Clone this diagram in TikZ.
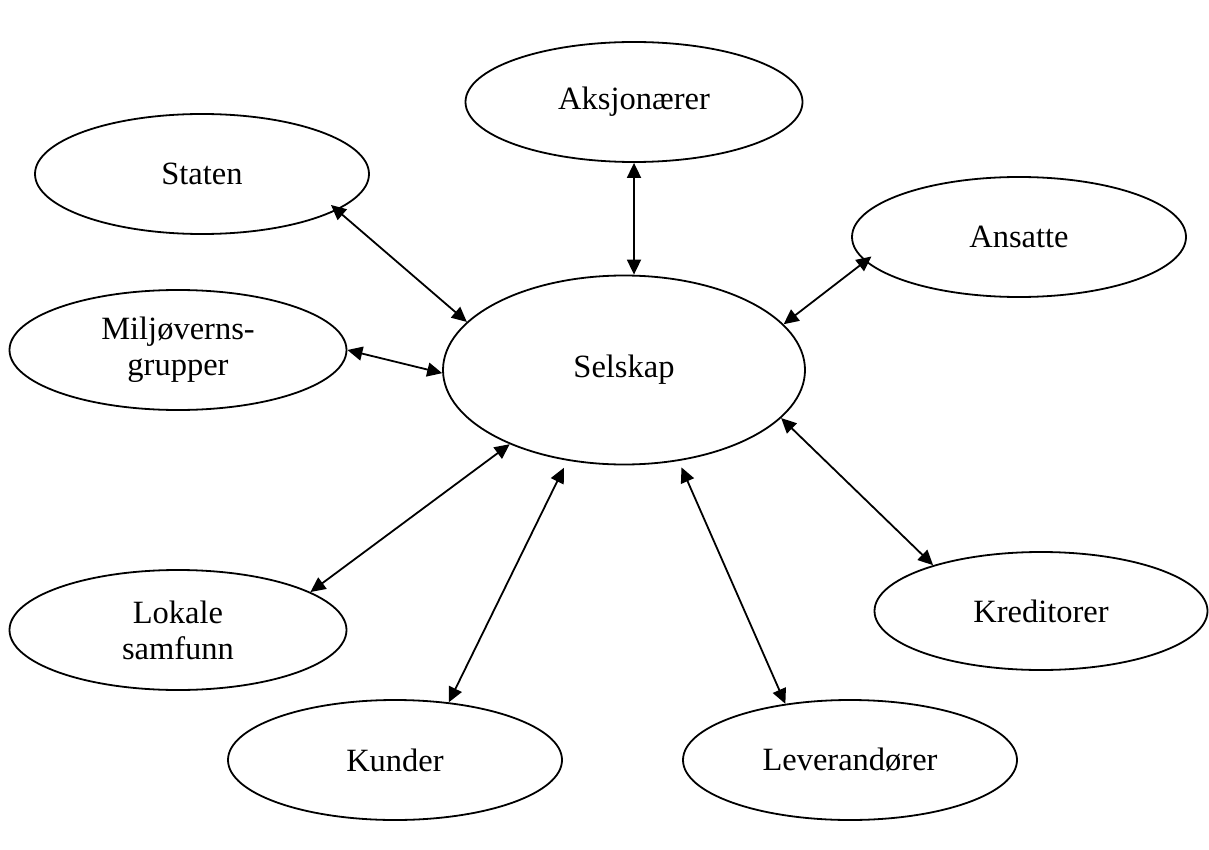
\documentclass[tikz,border=0pt]{standalone}
\usepackage{fontspec}
\setmainfont{Liberation Serif}
\usetikzlibrary{shapes.geometric,arrows.meta}
\begin{document}
\begin{tikzpicture}[x=1pt,y=-1pt,
  party/.style={draw,ellipse,line width=1.8pt,inner sep=0pt,align=center,
    minimum width=334pt,minimum height=120pt,
    font=\fontsize{32.5}{36}\selectfont},
  link/.style={line width=1.8pt,{Triangle[length=15pt,width=14pt]}-{Triangle[length=15pt,width=14pt]}}]
\useasboundingbox (0,0) rectangle (1209,850);
\fill[white] (0,0) rectangle (1209,850);

% stakeholder groups around the company
\node[party,minimum width=362pt,minimum height=189pt] (selskap) at (624,370) {Selskap};
\node[party,minimum width=337pt] (aksj) at (634,102) {Aksjonærer};
\node[party] (staten) at (202,174) {Staten};
\node[party] (ansatte) at (1019,237) {Ansatte};
\node[party,minimum width=337pt] (miljo) at (178,350) {Miljøverns-\\grupper};
\node[party,minimum width=337pt] (lokale) at (178,630) {Lokale\\samfunn};
\node[party,minimum width=333pt,minimum height=118pt] (kred) at (1041,611) {Kreditorer};
\node[party] (kunder) at (395,760) {Kunder};
\node[party] (lev) at (850,760) {Leverandører};

% two-way relations
\draw[link] (aksj.south) -- (aksj.south |- selskap.north);
\draw[link,shorten <=-8pt] (staten.-15) -- (selskap.163.4);
\draw[link,shorten <=-8pt] (ansatte.189) -- (selskap.16.9);
\draw[link] (miljo.east) -- (selskap.181);
\draw[link] (lokale.16.5) -- (selskap.213.9);
\draw[link,shorten >=8pt] (kunder.47.7) -- (selskap.238.1);
\draw[link,shorten >=7pt] (lev.139.6) -- (selskap.301);
\draw[link] (kred.157.9) -- (selskap.-17.4);
\end{tikzpicture}
\end{document}
